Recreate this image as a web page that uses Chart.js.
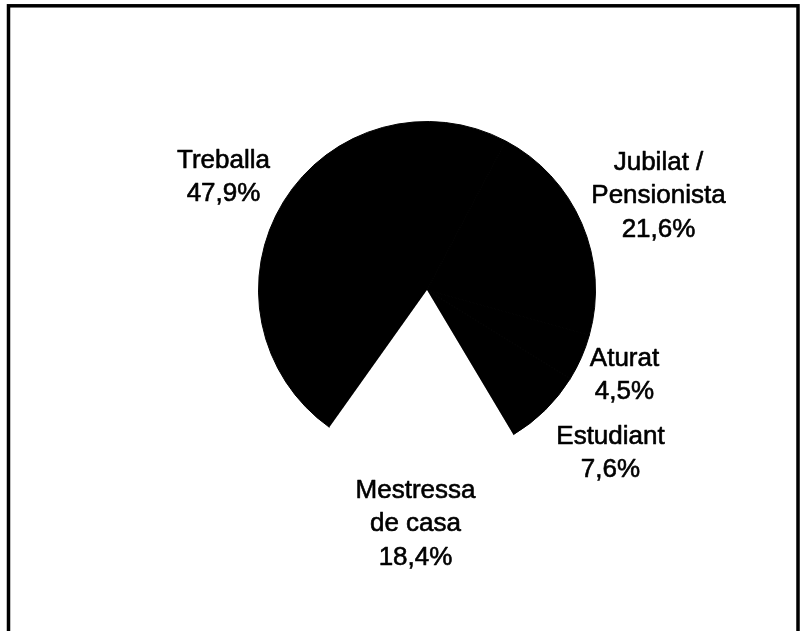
<!DOCTYPE html>
<html>
<head>
<meta charset="utf-8">
<script src="https://cdn.jsdelivr.net/npm/chart.js@4/dist/chart.umd.min.js"></script>
<style>
  html, body { margin: 0; padding: 0; background: #fff; }
  #wrap { width: 805px; height: 631px; position: relative; }
</style>
</head>
<body>
<div id="wrap"><canvas id="c" width="805" height="631"></canvas></div>
<script>
// Situació laboral
const categories = ['Treballa', 'Jubilat / Pensionista', 'Aturat', 'Estudiant', 'Mestressa de casa'];
const values = [47.9, 21.6, 4.5, 7.6, 18.4];
// Label text lines (the last line is the percentage)
const labelLines = [
  ['Treballa'],
  ['Jubilat /', 'Pensionista'],
  ['Aturat'],
  ['Estudiant'],
  ['Mestressa', 'de casa']
];
const sliceColors = ['#000000', '#000000', '#000000', '#000000', '#ffffff'];

// Label anchors relative to the pie centre (x of text centre, baseline of first line)
const labelAnchors = [
  [-203.5, -122.5],
  [231.5, -120.5],
  [197.5, 75.5],
  [183.5, 153.5],
  [-11.5, 207.5]
];
const lineStep = 33.5;

const fmt = v => v.toFixed(1).replace('.', ',') + '%';

const framePlugin = {
  id: 'frame',
  beforeDraw(chart) {
    const ctx = chart.ctx;
    ctx.save();
    ctx.fillStyle = '#fff';
    ctx.fillRect(0, 0, chart.width, chart.height);
    ctx.strokeStyle = '#000';
    ctx.lineWidth = 3.5;
    ctx.strokeRect(8.5, 5.8, 789.5, 650);
    ctx.restore();
  }
};

const labelPlugin = {
  id: 'sliceLabels',
  afterDatasetsDraw(chart) {
    const arc = chart.getDatasetMeta(0).data[0];
    const cx = arc.x, cy = arc.y;
    const ctx = chart.ctx;
    ctx.save();
    ctx.fillStyle = '#000';
    ctx.strokeStyle = '#000';
    ctx.lineWidth = 0.6;
    ctx.lineJoin = 'round';
    ctx.font = '26px "Liberation Sans", Arial, sans-serif';
    ctx.textAlign = 'center';
    ctx.textBaseline = 'alphabetic';
    values.forEach((v, i) => {
      const lines = labelLines[i].concat([fmt(v)]);
      const [ox, oy] = labelAnchors[i];
      lines.forEach((t, j) => {
        const x = cx + ox, y = cy + oy + j * lineStep;
        ctx.fillText(t, x, y);
        ctx.strokeText(t, x, y);
      });
    });
    ctx.restore();
  }
};

new Chart(document.getElementById('c'), {
  type: 'pie',
  data: {
    labels: categories,
    datasets: [{
      data: values,
      backgroundColor: sliceColors,
      borderColor: sliceColors,
      borderWidth: [1, 1, 1, 1, 0],
      hoverOffset: 0
    }]
  },
  options: {
    responsive: false,
    animation: false,
    rotation: 215.4,
    layout: { padding: { left: 258, right: 209, top: 121, bottom: 172 } },
    plugins: { legend: { display: false }, tooltip: { enabled: false } }
  },
  plugins: [framePlugin, labelPlugin]
});
</script>
</body>
</html>
